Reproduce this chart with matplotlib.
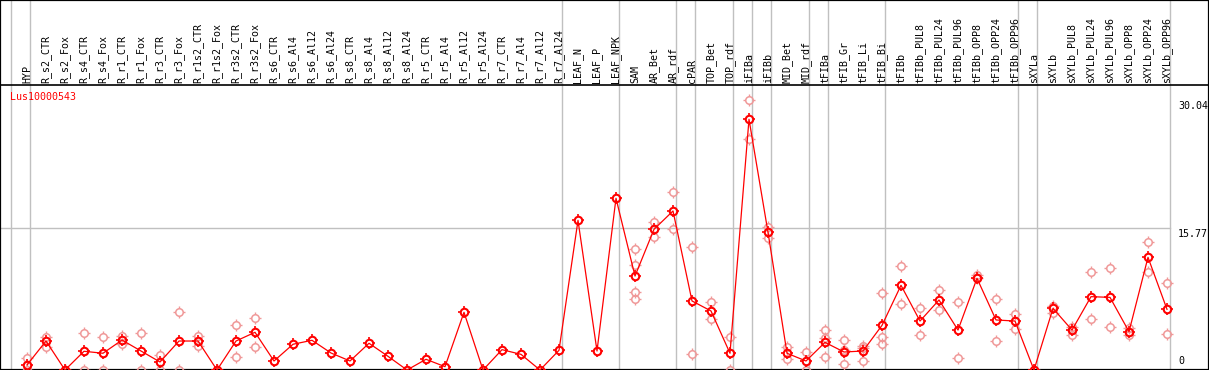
import numpy as np
import matplotlib
matplotlib.use('Agg')
import matplotlib.pyplot as plt
from matplotlib.path import Path

# sample names (x axis), in order
samples = ['HYP', 'R_s2_CTR', 'R_s2_Fox', 'R_s4_CTR', 'R_s4_Fox', 'R_r1_CTR', 'R_r1_Fox',
           'R_r3_CTR', 'R_r3_Fox', 'R_r1s2_CTR', 'R_r1s2_Fox', 'R_r3s2_CTR', 'R_r3s2_Fox',
           'R_s6_CTR', 'R_s6_Al4', 'R_s6_Al12', 'R_s6_Al24', 'R_s8_CTR', 'R_s8_Al4',
           'R_s8_Al12', 'R_s8_Al24', 'R_r5_CTR', 'R_r5_Al4', 'R_r5_Al12', 'R_r5_Al24',
           'R_r7_CTR', 'R_r7_Al4', 'R_r7_Al12', 'R_r7_Al24', 'LEAF_N', 'LEAF_P', 'LEAF_NPK',
           'SAM', 'AR_Bet', 'AR_rdf', 'cPAR', 'TOP_Bet', 'TOP_rdf', 'iFIBa', 'iFIBb',
           'MID_Bet', 'MID_rdf', 'tFIBa', 'tFIB_Gr', 'tFIB_Li', 'tFIB_Bi', 'tFIBb',
           'tFIBb_PUL8', 'tFIBb_PUL24', 'tFIBb_PUL96', 'tFIBb_OPP8', 'tFIBb_OPP24',
           'tFIBb_OPP96', 'sXYLa', 'sXYLb', 'sXYLb_PUL8', 'sXYLb_PUL24', 'sXYLb_PUL96',
           'sXYLb_OPP8', 'sXYLb_OPP24', 'sXYLb_OPP96']

# mean expression
means = [0.56, 3.22, 0.0, 2.08, 1.86, 3.33, 2.11, 0.89, 3.22, 3.22, 0.0, 3.22, 4.19,
         1.0, 2.86, 3.3, 1.89, 1.0, 2.97, 1.52, 0.0, 1.19, 0.37, 6.41, 0.0, 2.26, 1.74,
         0.0, 2.19, 16.63, 2.11, 19.08, 10.44, 15.63, 17.67, 7.67, 6.56, 1.86, 27.86,
         15.3, 1.86, 1.0, 3.07, 2.0, 2.11, 4.96, 9.41, 5.44, 7.78, 4.44, 10.19, 5.56,
         5.44, 0.0, 6.85, 4.44, 8.15, 8.07, 4.26, 12.52, 6.74]

# individual replicates
replicates = [[1.37, 0.0], [3.7, 2.59], [0.0, 0.0], [4.08, 0.0], [3.63, 0.0], [3.81, 2.86],
              [4.08, 0.0], [1.63, 0.0], [6.41, 0.0], [3.78, 2.67], [0.0, 0.0], [5.0, 1.41],
              [5.74, 2.59], [], [], [], [], [], [], [], [], [], [], [], [], [], [], [], [],
              [], [], [],
              [13.41, 11.63, 8.67, 7.86], [16.41, 14.81], [19.74, 15.63], [13.63, 1.74],
              [7.52, 5.63], [3.7, 0.0], [30.04, 25.68], [15.92, 14.67], [2.52, 1.19],
              [2.0, 0.0], [4.44, 3.59, 1.41], [3.33, 2.22, 0.63], [2.7, 2.48, 1.04],
              [8.52, 3.67, 2.89], [11.56, 7.3], [6.85, 3.89], [8.89, 6.67], [7.52, 1.3],
              [10.56, 10.26], [7.85, 3.22], [6.19, 4.52], [0.0, 0.0], [7.15, 6.3],
              [4.81, 3.89], [10.85, 5.63], [11.3, 4.81], [4.63, 3.89], [14.19, 10.85],
              [9.63, 3.96]]

# last sample of each group (vertical separators)
group_ends = [-1, 0, 28, 31, 34, 35, 37, 38, 39, 41, 42, 45, 52, 53, 60]
y_ticks = [30.04, 15.77, 0]
gene = 'Lus10000543'

W, H = 1209, 370
PX = 9.0      # pixels per unit
fig = plt.figure(figsize=(W / 100, H / 100), dpi=100)
ax = fig.add_axes([0, 0, 1, 1])
ax.set_xlim(-27 / 19, (W - 27) / 19)
ax.set_ylim(0, H / PX)
ax.set_xticks([])
ax.set_yticks([])
for s in ax.spines.values():
    s.set_linewidth(1.6)
    s.set_color('black')

header_y = (H - 85) / PX
font = dict(family='DejaVu Sans Mono', size=7.2)

# four small ticks around the circle markers
seg = lambda a, b: Path([a, b], [Path.MOVETO, Path.LINETO])
tick_mark = Path.make_compound_path(seg([0, 0.7], [0, 1]), seg([0, -0.7], [0, -1]),
                                    seg([0.7, 0], [1, 0]), seg([-0.7, 0], [-1, 0]))

x = np.arange(len(samples))

# grid
for g in group_ends:
    ax.axvline(g + 0.18, color='#c0c0c0', lw=1.0, zorder=1)
ax.plot([ax.get_xlim()[0], 60.18], [15.77, 15.77], color='#c0c0c0', lw=1.0, zorder=1)
ax.axhline(header_y, color='black', lw=1.2, zorder=2)

# replicates
rx = [i for i, r in enumerate(replicates) for v in r]
ry = [v for r in replicates for v in r]
ax.plot(rx, ry, ls='none', marker='o', ms=5.4, mfc='none', mec='#f09898', mew=1.1, zorder=3)
ax.plot(rx, ry, ls='none', marker=tick_mark, ms=8.6, mec='#f09898', mew=1.0, zorder=3)

# mean line
ax.plot(x, means, color='red', lw=0.9, marker='o', ms=5.4, mfc='none', mec='red',
        mew=1.5, zorder=4)
ax.plot(x, means, ls='none', marker=tick_mark, ms=8.8, mec='red', mew=1.2, zorder=4)

# labels
for i, name in enumerate(samples):
    ax.text(i, header_y + 0.2, name, rotation=90, ha='center', va='bottom', **font)
ax.text(-0.9, (H - 92) / PX, gene, color='red', ha='left', va='top', **font)
ax.text(60.58, y_ticks[0] - 0.2, '30.04', ha='left', va='top', **font)
ax.text(60.58, y_ticks[1] - 0.05, '15.77', ha='left', va='top', **font)
ax.text(60.6, 0.45, '0', ha='left', va='bottom', **font)

fig.savefig('out.png', dpi=100)
